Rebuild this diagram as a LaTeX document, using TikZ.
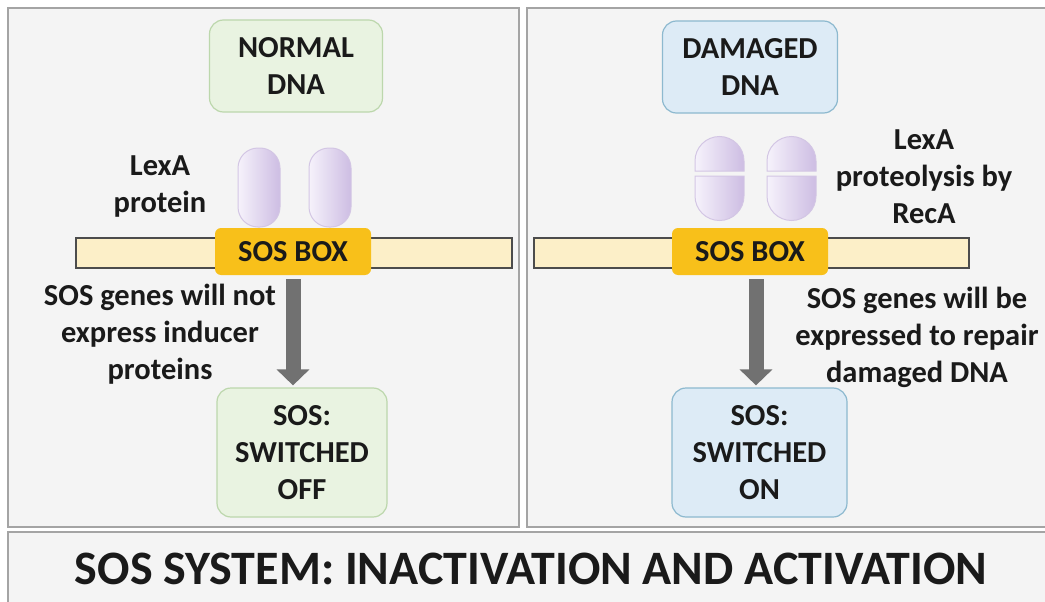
\documentclass[tikz,border=0pt]{standalone}
\usepackage{fontspec}
\setmainfont{Carlito}
\usetikzlibrary{positioning, arrows.meta, calc}

\definecolor{panelfill}{HTML}{F4F4F4}
\definecolor{paneledge}{HTML}{A4A4A4}
\definecolor{okfill}{HTML}{E9F3E1}
\definecolor{okedge}{HTML}{BCD7AC}
\definecolor{badfill}{HTML}{DDEBF6}
\definecolor{badedge}{HTML}{8DB9CF}
\definecolor{strandfill}{HTML}{FCEFC8}
\definecolor{strandedge}{HTML}{4C4C4C}
\definecolor{sosgold}{HTML}{F8C01A}
\definecolor{lexlight}{HTML}{F6F2FB}
\definecolor{lexdark}{HTML}{CDBDE3}
\definecolor{lexedge}{HTML}{D3C6E4}
\definecolor{arrowgray}{HTML}{717171}
\definecolor{ink}{HTML}{1A1A1A}

\tikzset{panel/.style={draw=paneledge,fill=panelfill,line width=1.5pt},
	label/.style={text=ink,align=center,font=\bfseries\fontsize{30.5}{37}\selectfont},
	statebox/.style={label,draw,rounded corners=14pt,line width=1.2pt},
	strand/.style={draw=strandedge,fill=strandfill,line width=1.5pt,minimum height=30pt,inner sep=0pt},
	sosbox/.style={label,fill=sosgold,rounded corners=6pt,minimum width=156pt,minimum height=47pt,inner sep=0pt},
	lexa/.style={draw=lexedge,line width=1pt,left color=lexlight,right color=lexdark},
	pill/.style={lexa,rounded corners=20pt,minimum width=42pt,minimum height=79pt,inner sep=0pt},
	fatarrow/.style={draw=arrowgray,line width=15pt,-{Triangle[length=16pt,width=32pt]}}}

\begin{document}
\begin{tikzpicture}[x=1pt,y=-1pt]
		\useasboundingbox (0,0) rectangle (1045,602);
		% Panels
		\path[panel] (8,8) rectangle (519,527);
		\path[panel] (527,8) rectangle (1047,527);
		\path[panel] (8,532) rectangle (1047,604);
		% Left side: normal DNA
		\node[statebox, fill=okfill, draw=okedge, minimum width=173pt, minimum height=92pt] (normal) at (296,66) {NORMAL\\DNA};
		\node[strand, minimum width=436pt] (strandL) at (294,253) {};
		\node[pill] (lexL1) at (259,187.5) {};
		\node[pill, right = 28pt of lexL1] (lexL2) {};
		\node[sosbox] (sosL) at (293,251.5) {SOS BOX};
		\node[label] (lexLtxt) at (160,187) {LexA\\protein};
		\node[statebox, fill=okfill, draw=okedge, minimum width=170pt, minimum height=129pt] (off) at (302,452.5) {SOS:\\SWITCHED\\OFF};
		\node[label] (noexpr) at (160,334) {SOS genes will not\\express inducer\\proteins};
		\draw[fatarrow, shorten <=4pt, shorten >=2pt] (sosL.south) -- (sosL.south |- off.north);
		% Right side: damaged DNA
		\node[statebox, fill=badfill, draw=badedge, minimum width=175pt, minimum height=92pt] (damaged) at (750,67) {DAMAGED\\DNA};
		\node[strand, minimum width=435pt] (strandR) at (751.5,253) {};
		\foreach \x in {695,767}{
			\draw[lexa] (\x,171) -- (\x,161) arc[start angle=180,end angle=360,radius=24.5] -- (\x+49,171) -- cycle;
			\draw[lexa] (\x,176) -- (\x,196) arc[start angle=180,end angle=0,radius=24.5] -- (\x+49,176) -- cycle;
		}
		\node[sosbox] (sosR) at (750,251.5) {SOS BOX};
		\node[label] (lexRtxt) at (924,177) {LexA\\proteolysis by\\RecA};
		\node[statebox, fill=badfill, draw=badedge, minimum width=175pt, minimum height=129pt] (on) at (759.5,452.5) {SOS:\\SWITCHED\\ON};
		\node[label] (expr) at (917,337) {SOS genes will be\\expressed to repair\\damaged DNA};
		\draw[fatarrow, shorten <=4pt, shorten >=2pt] ($(sosR.south)+(6,0)$) -- ($(sosR.south |- on.north)+(6,0)$);
		% Title
		\node[text=ink, font=\bfseries\fontsize{48}{52}\selectfont] (title) at (531,569) {SOS SYSTEM: INACTIVATION AND ACTIVATION};
	\end{tikzpicture}
\end{document}
